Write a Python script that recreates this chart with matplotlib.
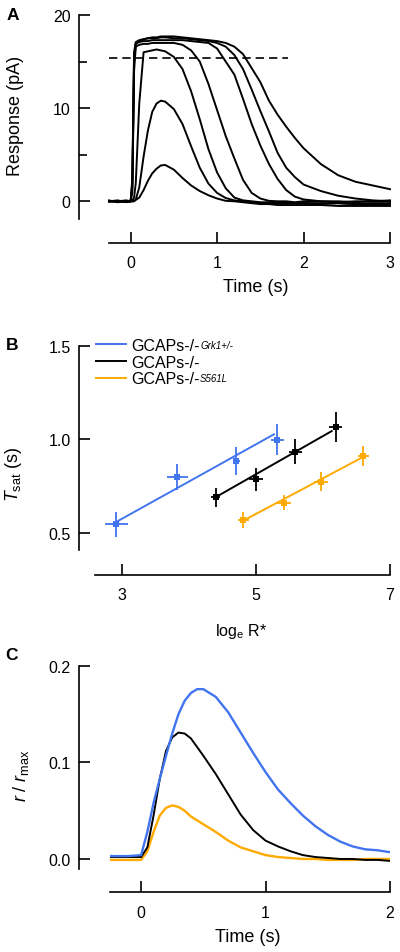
import matplotlib
matplotlib.use("Agg")
import matplotlib.pyplot as plt
from matplotlib.ticker import FixedLocator

plt.rcParams["font.family"] = ["Liberation Sans", "DejaVu Sans"]
plt.rcParams["mathtext.fontset"] = "custom"
plt.rcParams["mathtext.rm"] = "Liberation Sans"
plt.rcParams["mathtext.it"] = "Liberation Sans:italic"
plt.rcParams["mathtext.bf"] = "Liberation Sans:bold"

BLUE = "#4274EE"
ORANGE = "#FFAA00"
BLACK = "#000000"

# ---- Panel A: saturating flash responses (pA) ----
time_a = [-0.25, -0.15, -0.05, 0.0, 0.02, 0.04, 0.06, 0.1, 0.15, 0.2, 0.25, 0.3,
          0.35, 0.4, 0.5, 0.6, 0.7, 0.8, 0.9, 1.0, 1.1, 1.2, 1.3, 1.4, 1.5, 1.6,
          1.7, 1.8, 1.9, 2.0, 2.2, 2.4, 2.6, 2.8, 3.0]
trace_1 = [0.1, -0.1, 0.0, 0.0, 0.0, 0.05, 0.15, 0.4, 1.2, 2.2, 3.0, 3.5,
           3.85, 3.9, 3.4, 2.5, 1.7, 1.1, 0.65, 0.3, 0.05, 0.0, -0.1, -0.2, -0.3, -0.3,
           -0.4, -0.4, -0.4, -0.4, -0.4, -0.5, -0.5, -0.5, -0.5]
trace_2 = [0.0, 0.1, -0.1, 0.0, 0.0, 0.0, 0.2, 1.5, 4.8, 7.6, 9.6, 10.5,
           10.8, 10.7, 9.9, 8.3, 5.9, 3.6, 1.9, 0.9, 0.35, 0.1, 0.0, -0.1, -0.2, -0.2,
           -0.2, -0.2, -0.2, -0.2, -0.2, -0.2, -0.3, -0.2, -0.2]
trace_3 = [0.0, 0.0, 0.1, 0.0, 0.1, 0.4, 2.0, 10.5, 16.0, 16.1, 16.2, 16.3,
           16.2, 16.1, 15.5, 14.2, 11.8, 8.8, 5.6, 3.1, 1.4, 0.4, 0.1, 0.0, -0.1, -0.1,
           -0.2, -0.1, -0.2, -0.2, -0.3, -0.2, -0.3, -0.3, -0.3]
trace_4 = [0.0, 0.0, 0.0, 0.0, 1.0, 14.0, 16.6, 16.8, 16.9, 16.9, 17.0, 17.0,
           17.0, 17.0, 17.0, 16.8, 16.2, 15.0, 12.6, 9.8, 7.0, 4.6, 2.3, 0.9, 0.3, 0.05,
           0.0, 0.0, -0.1, 0.0, 0.0, -0.1, 0.0, 0.0, 0.0]
trace_5 = [0.0, 0.0, 0.0, 0.0, 1.5, 15.0, 16.9, 17.1, 17.2, 17.2, 17.3, 17.3,
           17.3, 17.3, 17.3, 17.3, 17.2, 17.1, 17.0, 16.4, 15.0, 13.6, 11.0, 8.3, 6.0, 4.0,
           2.4, 1.2, 0.5, 0.2, 0.0, 0.0, -0.1, 0.0, 0.1]
trace_6 = [0.0, 0.0, 0.0, 0.0, 2.0, 15.5, 17.0, 17.2, 17.4, 17.5, 17.5, 17.5,
           17.6, 17.6, 17.5, 17.5, 17.4, 17.3, 17.2, 17.0, 16.6, 15.7, 14.2, 12.0, 9.7, 7.5,
           5.2, 3.6, 2.6, 1.8, 1.1, 0.6, 0.3, 0.1, 0.0]
trace_7 = [0.0, 0.0, 0.0, 0.0, 2.5, 16.0, 17.1, 17.3, 17.4, 17.5, 17.6, 17.6,
           17.7, 17.7, 17.7, 17.6, 17.5, 17.4, 17.3, 17.2, 17.0, 16.6, 15.8, 14.3, 12.8, 10.8,
           9.3, 8.0, 6.8, 5.7, 4.0, 2.8, 2.1, 1.7, 1.3]
sat_x = [-0.25, 1.82]
sat_y = [15.4, 15.4]

# ---- Panel B: Tsat vs loge R* ----
blue_x = [2.92, 3.83, 4.71, 5.32]
blue_y = [0.545, 0.798, 0.884, 0.998]
blue_xerr = [0.17, 0.15, 0.05, 0.10]
blue_yerr = [0.067, 0.071, 0.074, 0.082]
black_x = [4.40, 5.00, 5.59, 6.19]
black_y = [0.690, 0.786, 0.934, 1.068]
black_xerr = [0.07, 0.10, 0.10, 0.10]
black_yerr = [0.050, 0.063, 0.067, 0.080]
orange_x = [4.81, 5.42, 5.97, 6.60]
orange_y = [0.567, 0.661, 0.773, 0.910]
orange_xerr = [0.08, 0.10, 0.10, 0.08]
orange_yerr = [0.042, 0.040, 0.050, 0.052]
blue_fit_x = [2.90, 5.27]
blue_fit_y = [0.554, 1.027]
black_fit_x = [4.40, 6.13]
black_fit_y = [0.690, 1.044]
orange_fit_x = [4.80, 6.57]
orange_fit_y = [0.562, 0.900]
legend_names = ["GCAPs-/-", "GCAPs-/-", "GCAPs-/-"]
legend_sups = ["Grk1+/-", "", "S561L"]

# ---- Panel C: normalized single-photon responses ----
time_c = [-0.25, -0.1, 0.0, 0.05, 0.1, 0.15, 0.2, 0.25, 0.3, 0.35, 0.4, 0.45,
          0.5, 0.6, 0.7, 0.8, 0.9, 1.0, 1.1, 1.2, 1.3, 1.4, 1.5, 1.6, 1.7, 1.8, 1.9, 2.0]
blue_c = [0.003, 0.003, 0.004, 0.028, 0.058, 0.083, 0.107, 0.130, 0.150, 0.164, 0.172, 0.176,
          0.176, 0.168, 0.152, 0.131, 0.110, 0.090, 0.072, 0.058, 0.045, 0.034, 0.025, 0.018,
          0.013, 0.010, 0.009, 0.007]
black_c = [0.002, 0.002, 0.002, 0.012, 0.045, 0.083, 0.112, 0.126, 0.131, 0.130, 0.125, 0.116,
           0.107, 0.088, 0.067, 0.046, 0.030, 0.019, 0.013, 0.008, 0.004, 0.002, 0.001, 0.0,
           0.0, -0.001, -0.001, -0.002]
orange_c = [-0.001, -0.001, -0.001, 0.008, 0.028, 0.045, 0.053, 0.0555, 0.054, 0.050, 0.044, 0.040,
            0.036, 0.028, 0.019, 0.012, 0.008, 0.004, 0.002, 0.001, 0.0, 0.0, -0.001, -0.001,
            -0.001, 0.0, 0.0, 0.0]

W, H = 400, 953
fig = plt.figure(figsize=(W / 100, H / 100), dpi=100)


def px_axes(x0, y0, x1, y1):
    # axes from pixel box (top-left origin)
    return fig.add_axes([x0 / W, 1 - y1 / H, (x1 - x0) / W, (y1 - y0) / H])


def style(ax, left_off, bottom_off):
    for s in ("top", "right"):
        ax.spines[s].set_visible(False)
    ax.spines["left"].set_position(("outward", left_off * 0.72))
    ax.spines["bottom"].set_position(("outward", bottom_off * 0.72))
    for s in ("left", "bottom"):
        ax.spines[s].set_linewidth(1.2)
    ax.tick_params(which="major", direction="in", length=8, width=1.2,
                   pad=6, labelsize=11.5)
    ax.tick_params(axis="x", which="major", pad=9)
    ax.tick_params(which="minor", direction="in", length=6, width=1.2)
    ax.patch.set_visible(False)


def place_labels(ax, xl, yl):
    ax.xaxis.set_label_coords(xl[0] / W, 1 - xl[1] / H, transform=fig.transFigure)
    ax.yaxis.set_label_coords(yl[0] / W, 1 - yl[1] / H, transform=fig.transFigure)
    ax.xaxis.label.set_va("center")
    ax.yaxis.label.set_va("center")


# Panel A
axA = px_axes(109, 16, 390, 220)
for tr in (trace_1, trace_2, trace_3, trace_4, trace_5, trace_6, trace_7):
    axA.plot(time_a, tr, color=BLACK, lw=1.4, clip_on=False)
axA.plot(sat_x, sat_y, color=BLACK, lw=1.2, ls=(0, (5, 3)))
axA.set_xlim(-0.25, 3)
axA.set_ylim(-1.9, 20)
axA.set_xticks([0, 1, 2, 3])
axA.set_yticks([0, 10, 20])
axA.yaxis.set_minor_locator(FixedLocator([5, 15]))
style(axA, 30, 24)
axA.set_xlabel("Time (s)", fontsize=13)
axA.set_ylabel("Response (pA)", fontsize=13)
place_labels(axA, (256, 288), (16, 116))

# Panel B
axB = px_axes(95, 347, 390, 551)
handles = []
for fx, fy, x, y, xe, ye, c in (
        (blue_fit_x, blue_fit_y, blue_x, blue_y, blue_xerr, blue_yerr, BLUE),
        (black_fit_x, black_fit_y, black_x, black_y, black_xerr, black_yerr, BLACK),
        (orange_fit_x, orange_fit_y, orange_x, orange_y, orange_xerr, orange_yerr, ORANGE)):
    h, = axB.plot(fx, fy, color=c, lw=1.4)
    handles.append(h)
    axB.errorbar(x, y, xerr=xe, yerr=ye, fmt="s", color=c, ms=4.5, mew=0,
                 elinewidth=1.3, capsize=2.5, capthick=1.3)
axB.set_xlim(2.6, 7)
axB.set_ylim(0.407, 1.5)
axB.set_xticks([3, 5, 7])
axB.set_yticks([0.5, 1.0, 1.5])
style(axB, 16, 24.6)
axB.set_xlabel(r"log$_\mathrm{e}$ R*", fontsize=11.5)
axB.set_ylabel(r"$T_\mathrm{sat}$ (s)", fontsize=13)
place_labels(axB, (241, 632), (14, 474))
leg = axB.legend(handles, legend_names, loc="upper left", frameon=False,
                 bbox_to_anchor=(96 / W, 1 - 339 / H), bbox_transform=fig.transFigure,
                 fontsize=11.5, handlelength=1.9, handletextpad=0.3,
                 labelspacing=0.1, borderpad=0, borderaxespad=0)

# Panel C
axC = px_axes(110, 667, 390, 870)
axC.plot(time_c, orange_c, color=ORANGE, lw=1.7)
axC.plot(time_c, black_c, color=BLACK, lw=1.4)
axC.plot(time_c, blue_c, color=BLUE, lw=1.7)
axC.set_xlim(-0.25, 2)
axC.set_ylim(-0.0104, 0.2)
axC.set_xticks([0, 1, 2])
axC.set_yticks([0.0, 0.1, 0.2])
axC.set_yticklabels(["0.0", "0.1", "0.2"])
style(axC, 31, 23.3)
axC.set_xlabel("Time (s)", fontsize=13)
axC.set_ylabel(r"$r$ / $r_\mathrm{max}$", fontsize=13)
place_labels(axC, (248, 938), (21, 776))

# panel letters
for letter, (lx, ly) in zip("ABC", [(13, 15), (12, 345), (12, 656)]):
    fig.text(lx / W, 1 - ly / H, letter, fontsize=12.5, fontweight="bold",
             ha="center", va="center")

# small italic superscripts next to legend labels
fig.canvas.draw()
inv = fig.transFigure.inverted()
for txt, sup in zip(leg.get_texts(), legend_sups):
    if not sup:
        continue
    bb = txt.get_window_extent()
    (x1, yc), = inv.transform([(bb.x1 + 0.5, (bb.y0 + bb.y1) / 2 + 1.0)])
    fig.text(x1, yc, sup, fontsize=7, fontstyle="italic", ha="left", va="center")

fig.savefig("out.png", dpi=100)
